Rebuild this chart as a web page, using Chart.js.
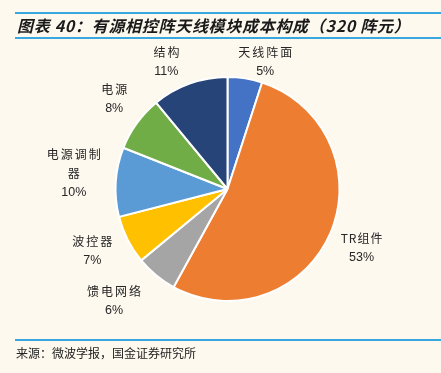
<!DOCTYPE html>
<html><head><meta charset="utf-8">
<script src="https://cdn.jsdelivr.net/npm/chart.js@4/dist/chart.umd.min.js"></script>
<style>
html,body{margin:0;padding:0;background:#FEF9EF;}
#wrap{position:relative;width:441px;height:373px;overflow:hidden;background:#FEF9EF;}
#c{position:absolute;left:0;top:0;}
.rule{position:absolute;left:15px;width:426px;height:2px;background:#3AA8E0;}
#title{position:absolute;left:17px;top:13px;height:24px;line-height:24px;font-family:"Noto Sans CJK SC";font-weight:bold;font-style:italic;font-size:16px;letter-spacing:0.7px;color:#1a1a1a;white-space:nowrap;}
#src{position:absolute;left:16px;top:344px;line-height:18px;font-family:"Noto Sans CJK SC";font-size:12px;color:#222;white-space:nowrap;}
</style></head>
<body>
<div id="wrap">
<canvas id="c" width="441" height="373"></canvas>
<div class="rule" style="top:12px"></div>
<div id="title">图表 40：有源相控阵天线模块成本构成（320 阵元）</div>
<div class="rule" style="top:37px"></div>
<div class="rule" style="top:339px"></div>
<div id="src">来源：微波学报，国金证券研究所</div>
</div>
<script>
// ---- data ----
const categories = ['天线阵面', 'TR组件', '馈电网络', '波控器', '电源调制器', '电源', '结构'];
const shares = [5, 53, 6, 7, 10, 8, 11];
const labelLines = [['天线阵面'], ['TR组件'], ['馈电网络'], ['波控器'], ['电源调制', '器'], ['电源'], ['结构']];
const sliceColors = ['#4472C4', '#ED7D31', '#A5A5A5', '#FFC000', '#5B9BD5', '#70AD47', '#264478'];

// label nudges (px) relative to a radial placement, to mimic the reference layout
const labelNudge = [[15, 16], [1, 1], [-21, 0], [-6, -4], [-9, -6], [4, -5], [-12, 9]];

const outsideLabels = {
  id: 'outsideLabels',
  afterDatasetsDraw(chart) {
    const ctx = chart.ctx;
    const meta = chart.getDatasetMeta(0);
    const total = shares.reduce((a, b) => a + b, 0);
    ctx.save();
    ctx.fillStyle = '#262626';
    ctx.textAlign = 'center';
    ctx.textBaseline = 'middle';
    meta.data.forEach((arc, i) => {
      const p = arc.getProps(['x', 'y', 'startAngle', 'endAngle', 'outerRadius'], true);
      const mid = (p.startAngle + p.endAngle) / 2;
      const d = p.outerRadius + 33;
      const cx = p.x + Math.cos(mid) * d + labelNudge[i][0];
      const cy = p.y + Math.sin(mid) * d + labelNudge[i][1];
      const lines = labelLines[i].concat([Math.round(shares[i] / total * 100) + '%']);
      const lh = 19;
      const y0 = cy - (lines.length - 1) * lh / 2;
      lines.forEach((t, k) => {
        const isPct = k === lines.length - 1;
        ctx.font = isPct ? '12.5px "Liberation Sans", Arial, sans-serif' : '12px "Noto Sans CJK SC", sans-serif';
        const sp = isPct ? 0 : (/^[A-Za-z]/.test(t) ? 1 : 2);
        if ('letterSpacing' in ctx) ctx.letterSpacing = sp + 'px';
        ctx.fillText(t, cx + sp / 2, y0 + k * lh);
      });
    });
    ctx.restore();
  }
};

new Chart(document.getElementById('c'), {
  type: 'pie',
  data: {
    labels: categories,
    datasets: [{
      data: shares,
      backgroundColor: sliceColors,
      borderColor: '#FFFFFF',
      borderWidth: 2,
      hoverOffset: 0
    }]
  },
  options: {
    responsive: false,
    animation: false,
    events: [],
    layout: { padding: { left: 114.5, right: 100.5, top: 76, bottom: 71 } },
    plugins: { legend: { display: false }, tooltip: { enabled: false } }
  },
  plugins: [outsideLabels]
});
</script>
</body></html>
